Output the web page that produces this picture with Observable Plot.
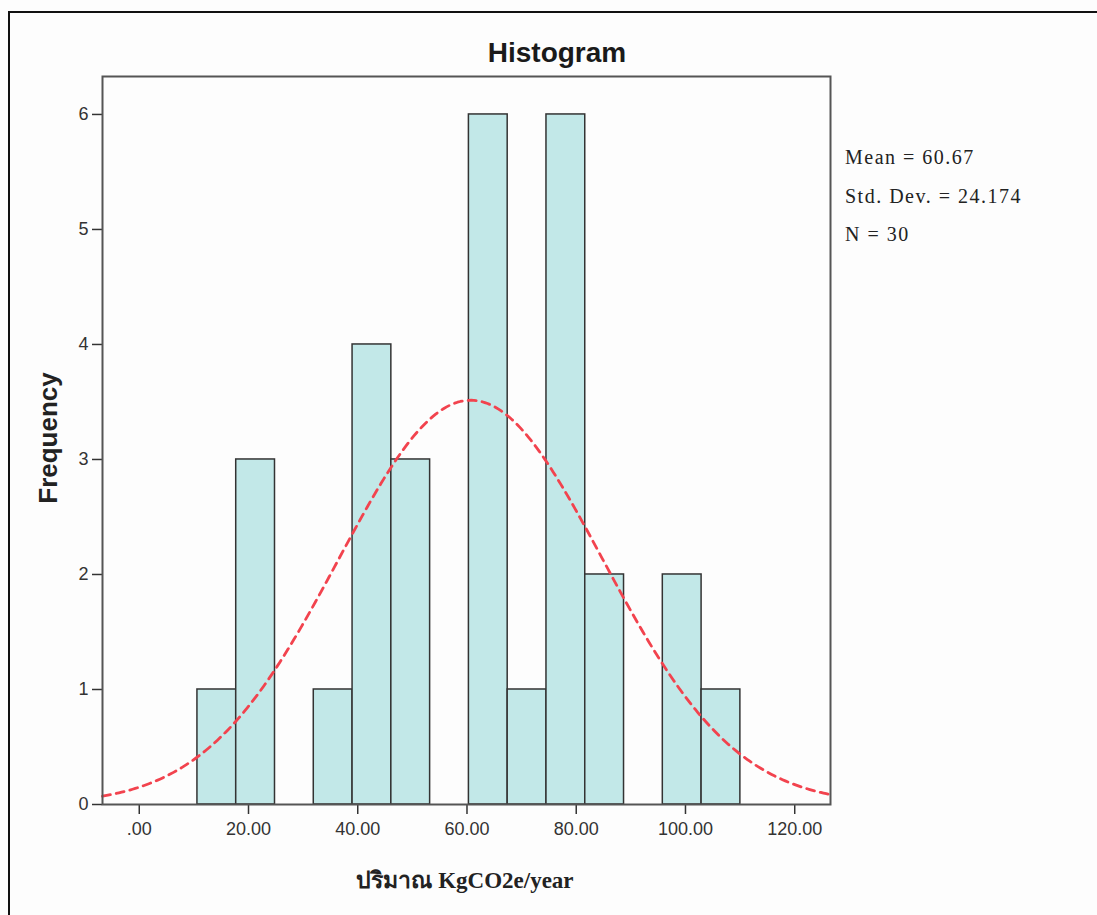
<!DOCTYPE html>
<html>
<head>
<meta charset="utf-8">
<script src="https://cdn.jsdelivr.net/npm/d3@7"></script>
<script src="https://cdn.jsdelivr.net/npm/@observablehq/plot@0.6"></script>
<style>
  html, body { margin: 0; padding: 0; background: #fdfdfd; }
  #page { position: relative; width: 1097px; height: 915px; overflow: hidden; background: #fdfdfd; }
  #border { position: absolute; left: 8px; top: 11px; width: 1100px; height: 920px;
            border-top: 2px solid #111; border-left: 2px solid #111; }
  #title { position: absolute; left: 557px; top: 37px; transform: translateX(-50%);
           font: bold 28px "Liberation Sans", Arial, sans-serif; color: #1a1a1a; white-space: nowrap; }
  #chart { position: absolute; left: 0; top: 60px; }
  #ylabel { position: absolute; left: 48px; top: 438px; transform: translate(-50%, -50%) rotate(-90deg);
            font: bold 26px "Liberation Sans", Arial, sans-serif; color: #222; white-space: nowrap; }
  #xlabel { position: absolute; left: 465px; top: 880px; transform: translate(-50%, -50%);
            font: bold 23px "Liberation Serif", "Times New Roman", serif; color: #222; white-space: nowrap; }
  #stats { position: absolute; left: 845px; top: 138px;
           font: 20px "Liberation Serif", "Times New Roman", serif; letter-spacing: 1.5px;
           color: #222; line-height: 38.5px; white-space: nowrap; }
</style>
</head>
<body>
<div id="page">
  <div id="border"></div>
  <div id="title">Histogram</div>
  <div id="chart"></div>
  <div id="ylabel">Frequency</div>
  <div id="xlabel">ปริมาณ KgCO2e/year</div>
  <div id="stats"></div>
</div>
<script>
// Histogram bins
const binLow  = [10.65, 17.75, 31.95, 39.05, 46.15, 60.35, 67.45, 74.55, 81.65, 95.85, 102.95];
const binHigh = [17.75, 24.85, 39.05, 46.15, 53.25, 67.45, 74.55, 81.65, 88.75, 102.95, 110.05];
const counts  = [1, 3, 1, 4, 3, 6, 1, 6, 2, 2, 1];

// Summary statistics shown on the chart
const statLabels = ["Mean = 60.67", "Std. Dev. = 24.174", "N = 30"];
const mean = 60.67, sd = 24.174, n = 30, binWidth = 7.1;

// Axis ticks
const xTicks = [0, 20, 40, 60, 80, 100, 120];
const yTicks = [0, 1, 2, 3, 4, 5, 6];

const bars = binLow.map((lo, i) => ({x1: lo, x2: binHigh[i], y: counts[i]}));

// Fitted normal curve (defined by the chart's mean, std. dev. and N)
const xDomain = [-6.73, 126.55];
const curve = d3.range(xDomain[0], xDomain[1] + 0.01, 0.5).map(x => ({
  x, y: n * binWidth / (sd * Math.sqrt(2 * Math.PI)) * Math.exp(-0.5 * ((x - mean) / sd) ** 2)
}));

const plot = Plot.plot({
  width: 1097,
  height: 855,
  marginTop: 16,
  marginBottom: 111,
  marginLeft: 102,
  marginRight: 267,
  style: {fontFamily: "'Liberation Sans', Arial, sans-serif", fontSize: "18px", color: "#333", background: "transparent"},
  x: {domain: xDomain},
  y: {domain: [0, 6.33]},
  marks: [
    Plot.rectY(bars, {x1: "x1", x2: "x2", y: "y", fill: "#c2e8e8", stroke: "#333", strokeWidth: 1.5}),
    Plot.line(curve, {x: "x", y: "y", stroke: "#f2434e", strokeWidth: 2.8, strokeDasharray: "8,6"}),
    Plot.axisX({ticks: xTicks, tickSize: 10, tickPadding: 8, fontSize: 18, label: null, strokeWidth: 1.5,
                tickFormat: d => d === 0 ? ".00" : d.toFixed(2)}),
    Plot.axisY({ticks: yTicks, tickSize: 10, tickPadding: 4, fontSize: 18, label: null, strokeWidth: 1.5,
                tickFormat: d => String(d)}),
    Plot.frame({stroke: "#555", strokeWidth: 2})
  ]
});
document.getElementById("chart").appendChild(plot);
document.getElementById("stats").innerHTML = statLabels.map(s => `<div>${s}</div>`).join("");
</script>
</body>
</html>
